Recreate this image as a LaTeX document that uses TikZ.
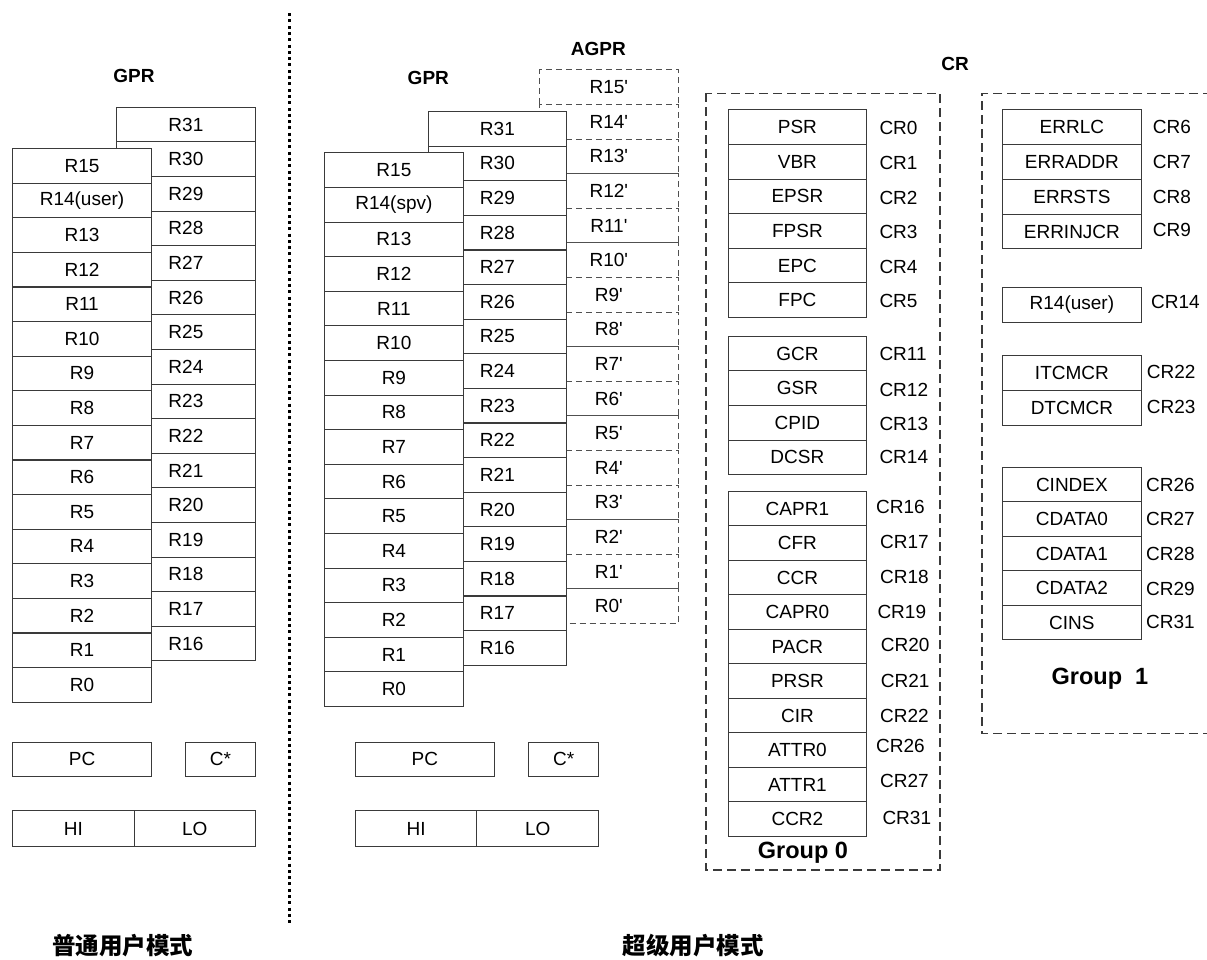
\documentclass[tikz,border=0pt]{standalone}
\usepackage{fontspec}
\setmainfont{Liberation Sans}
\newfontfamily\cjk{Noto Sans CJK SC}
\definecolor{linec}{HTML}{3A3A3A}
\definecolor{dashc}{HTML}{505050}
\newcommand{\regfont}{\fontsize{19}{22}\selectfont}
\newcommand{\headfont}{\fontsize{19}{22}\selectfont\bfseries}
\newcommand{\grpfont}{\fontsize{23.5}{27}\selectfont\bfseries}
\newcommand{\modefont}{\cjk\fontsize{23.5}{27}\selectfont\bfseries}
\newcommand{\pq}{\textquotesingle}
\begin{document}
\begin{tikzpicture}[x=1pt,y=-1pt,
  reg/.style={draw=linec, line width=1.1pt, fill=white, minimum width=139pt,
    minimum height=34.6pt, inner sep=0pt, anchor=north west, font=\regfont},
  agpr/.style={reg, draw=dashc, line width=1pt, dash pattern=on 6pt off 4pt},
  crl/.style={anchor=west, inner sep=0pt, font=\regfont},
  head/.style={inner sep=0pt, font=\headfont},
  grp/.style={draw=linec, line width=1.6pt, dash pattern=on 9pt off 5pt},
  grplbl/.style={inner sep=0pt, font=\grpfont},
  mode/.style={inner sep=0pt, font=\modefont},
  divider/.style={draw=black, line width=2.6pt, dash pattern=on 3pt off 3.3pt}
]
\useasboundingbox (0,0) rectangle (1207,959);

% ================= normal user mode =================
\node[head] (gprA) at (134,76) {GPR};
\foreach \t [count=\i from 0] in {R31,R30,R29,R28,R27,R26,R25,R24,R23,R22,R21,R20,R19,R18,R17,R16}
  \node[reg, minimum width=138.7pt] (uR\i) at (116,{106.7+34.6*\i}) {\t};
\foreach \t [count=\i from 0] in {R15,R14(user),R13,R12,R11,R10,R9,R8,R7,R6,R5,R4,R3,R2,R1,R0}
  \node[reg] (uL\i) at (12,{148+34.6*\i}) {\t};
\node[reg, minimum height=34pt] (uPC) at (12,741.7) {PC};
\node[reg, minimum width=69.4pt, minimum height=34pt] (uC) at (185.3,741.7) {C*};
\node[reg, minimum width=121.7pt, minimum height=35.4pt] (uHI) at (12,810.3) {HI};
\node[reg, minimum width=121pt, minimum height=35.4pt] (uLO) at (133.7,810.3) {LO};
\node[mode] (modeA) at (122.5,946) {普通用户模式};

% divider
\coordinate (divtop) at (289.3,13);
\coordinate (divbot) at (289.3,923);
\draw[divider] (divtop) -- (divbot);

% ================= supervisor mode =================
\node[head] (agprh) at (598.3,49) {AGPR};
\node[head] (gprB) at (428.3,77.7) {GPR};
\foreach \n [count=\i from 0] in {15,14,13,12,11,10,9,8,7,6,5,4,3,2,1,0}
  \node[agpr, minimum width=138.7pt] (aR\i) at (539,{69.3+34.6*\i}) {R\n\pq};
\foreach \t [count=\i from 0] in {R31,R30,R29,R28,R27,R26,R25,R24,R23,R22,R21,R20,R19,R18,R17,R16}
  \node[reg, minimum width=138.3pt] (sR\i) at (427.7,{111+34.6*\i}) {\t};
\foreach \t [count=\i from 0] in {R15,R14(spv),R13,R12,R11,R10,R9,R8,R7,R6,R5,R4,R3,R2,R1,R0}
  \node[reg, minimum width=138.7pt] (sL\i) at (324,{152.3+34.6*\i}) {\t};
\node[reg, minimum width=138.7pt, minimum height=34.3pt] (sPC) at (355,741.7) {PC};
\node[reg, minimum width=69.7pt, minimum height=34.3pt] (sC) at (528.3,741.7) {C*};
\node[reg, minimum width=121.3pt, minimum height=35.4pt] (sHI) at (355,810.3) {HI};
\node[reg, minimum width=121.7pt, minimum height=35.4pt] (sLO) at (476.3,810.3) {LO};
\node[mode] (modeB) at (693.3,946) {超级用户模式};

% ================= CR =================
\node[head] (crh) at (955,64) {CR};

% Group 0
\draw[grp] (705.7,93.3) rectangle (940,870);
\foreach \t [count=\i from 0] in {PSR,VBR,EPSR,FPSR,EPC,FPC}
  \node[reg, minimum width=138.3pt] (g0a\i) at (727.7,{109.3+34.6*\i}) {\t};
\foreach \t [count=\i from 0] in {GCR,GSR,CPID,DCSR}
  \node[reg, minimum width=138.3pt] (g0b\i) at (727.7,{335.7+34.6*\i}) {\t};
\foreach \t [count=\i from 0] in {CAPR1,CFR,CCR,CAPR0,PACR,PRSR,CIR,ATTR0,ATTR1,CCR2}
  \node[reg, minimum width=138.3pt, minimum height=34.5pt] (g0c\i) at (727.7,{490.7+34.5*\i}) {\t};
\foreach \t/\yy [count=\i from 0] in {CR0/128.3,CR1/162.9,CR2/197.5,CR3/232.1,CR4/266.7,CR5/301.3}
  \node[crl] (c0a\i) at (879.3,\yy) {\t};
\foreach \t/\yy [count=\i from 0] in {CR11/354.3,CR12/390,CR13/424,CR14/456.7}
  \node[crl] (c0b\i) at (879.3,\yy) {\t};
\foreach \t/\xx/\yy [count=\i from 0] in {CR16/876/506.7,CR17/880/541.7,CR18/880/576.7,CR19/877.3/611.7,CR20/880.7/645,CR21/880.7/680.7,CR22/880/715.7,CR26/876/746,CR27/880/780.7,CR31/882.3/817.7}
  \node[crl] (c0c\i) at (\xx,\yy) {\t};
\node[grplbl] (g0l) at (803,853) {Group 0};

% Group 1
\coordinate (g1tr) at (1212,93.3);
\coordinate (g1tl) at (981.7,93.3);
\coordinate (g1bl) at (981.7,733.3);
\coordinate (g1br) at (1212,733.3);
\draw[grp] (g1tr) -- (g1tl) -- (g1bl) -- (g1br);
\foreach \t [count=\i from 0] in {ERRLC,ERRADDR,ERRSTS,ERRINJCR}
  \node[reg, minimum width=139.3pt, minimum height=34.75pt] (g1a\i) at (1001.7,{109.3+34.75*\i}) {\t};
\node[reg, minimum width=139.3pt, minimum height=34.4pt] (g1b0) at (1001.7,287.3) {R14(user)};
\foreach \t [count=\i from 0] in {ITCMCR,DTCMCR}
  \node[reg, minimum width=139.3pt, minimum height=35pt] (g1c\i) at (1001.7,{355+35*\i}) {\t};
\foreach \t [count=\i from 0] in {CINDEX,CDATA0,CDATA1,CDATA2,CINS}
  \node[reg, minimum width=139.3pt, minimum height=34.5pt] (g1d\i) at (1001.7,{466.7+34.5*\i}) {\t};
\foreach \t/\yy [count=\i from 0] in {CR6/126.7,CR7/161.7,CR8/196.7,CR9/230}
  \node[crl] (c1a\i) at (1152.7,\yy) {\t};
\node[crl] (c1b0) at (1151,301.7) {CR14};
\foreach \t/\yy [count=\i from 0] in {CR22/371.7,CR23/407.3}
  \node[crl] (c1c\i) at (1146.7,\yy) {\t};
\foreach \t/\yy [count=\i from 0] in {CR26/485,CR27/519.3,CR28/554,CR29/589,CR31/621.7}
  \node[crl] (c1d\i) at (1146,\yy) {\t};
\node[grplbl] (g1l) at (1100,678.3) {Group\ \ 1};
\end{tikzpicture}
\end{document}
